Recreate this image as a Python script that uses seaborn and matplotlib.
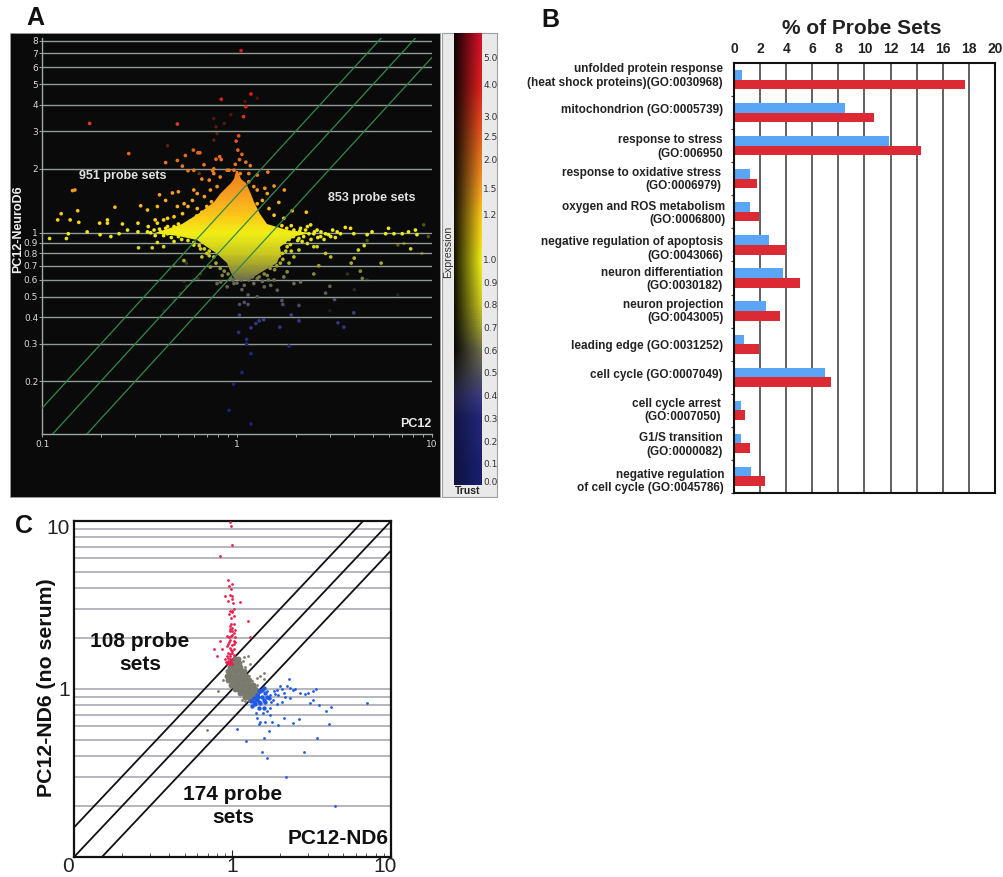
import numpy as np
import pandas as pd
import seaborn as sns
import matplotlib.pyplot as plt
from matplotlib.colors import LinearSegmentedColormap, LogNorm
from matplotlib.patches import Polygon, Rectangle
from matplotlib.transforms import ScaledTranslation

W, H = 1004, 877

# Panel A: points (PC12, PC12-NeuroD6)
a_points = [
    (1.05, 7.2), (1.18, 4.5), (.83, 4.25), (1.11, 3.92), (1.08, 3.52), (.175, 3.27), (.494, 3.25), (1.02, 2.86),
    (.99, 2.7), (.278, 2.36), (.597, 2.45), (.63, 2.38), (.645, 2.38), (.543, 2.31), (.815, 2.28), (.83, 2.21),
    (1.01, 2.45), (1.06, 2.34), (.43, 2.14), (.494, 2.19), (1.11, 2.15), (1.03, 2.21), (.677, 2.09), (.98, 2.1),
    (.78, 2.22), (.524, 2.06), (.56, 1.96), (.6, 1.97), (.75, 1.96), (.76, 2.0), (.89, 1.97), (1.17, 2.07),
    (1.27, 1.87), (1.44, 1.93), (.66, 1.79), (.143, 1.58), (.147, 1.59), (1.55, 1.66), (1.39, 1.62), (1.75, 1.59),
    (1.43, 1.53), (1.64, 1.39), (1.27, 1.37), (1.92, 1.27), (2.27, 1.25), (.466, 1.54), (.4, 1.51), (.43, 1.42),
    (.5, 1.56), (.32, 1.34), (.236, 1.32), (.347, 1.28), (.39, 1.33), (.152, 1.27), (.125, 1.23), (.12, 1.15),
    (.139, 1.15), (.154, 1.12), (.197, 1.11), (.216, 1.15), (.216, 1.11), (.258, 1.1), (.31, 1.11), (.17, 1.01),
    (.136, .99), (.133, .94), (.109, .94), (.198, .98), (.225, .96), (.248, .99), (.31, 1.01), (.312, .85),
    (.367, .85), (.39, .9), (.534, .74), (.42, 1.15), (.38, 1.15), (.44, 1.07), (.35, 1.07), (.274, 1.03),
    (2.58, 1.03), (2.85, .99), (3.03, .96), (3.27, 1.01), (3.4, .99), (3.6, 1.06), (3.83, 1.05), (3.98, .99),
    (4.66, .98), (4.94, 1.01), (5.8, .99), (6.0, 1.05), (6.4, .99), (7.06, .99), (7.6, 1.01), (8.25, 1.03),
    (8.4, .98), (7.8, .84), (5.5, .72), (4.5, .87), (4.2, .83), (4.0, .76), (3.86, .72), (3.03, .77), (2.85, .8),
    (2.58, .86), (2.48, .86), (4.3, .66), (4.4, .61), (3.0, .56), (2.85, .52), (2.63, .7), (2.48, .64),
    (1.03, .46), (1.09, .47), (1.14, .46), (1.03, .41), (1.02, .34), (1.12, .315), (1.12, .3), (1.18, .27),
    (1.06, .22), (.96, .194), (.91, .146), (1.18, .126), (1.18, .357), (1.25, .374), (1.3, .385), (1.37, .39),
    (1.66, .36), (2.08, .385), (1.85, .293), (1.9, .41), (3.3, .377), (3.54, .36), (1.7, .48), (1.72, .46),
    (2.08, .455), (1.27, .5), (1.14, .51), (1.06, .54), (3.17, .485), (3.98, .42),
    (.79, .577), (.825, .587), (.89, .557), (.965, .577), (1.09, .566), (1.22, .577), (1.38, .557), (1.49, .566),
    (1.61, .537), (1.96, .577), (2.12, .587), (1.74, .62), (1.81, .655), (1.55, .6), (.76, .77), (.7, .8),
    (.65, .84), (.6, .875), (1.85, .72), (1.96, .77), (2.08, .83), (2.16, .91), (1.81, .86), (1.71, .8),
    (1.67, .72), (1.56, .67), (1.43, .63), (1.27, .61), (1.15, .6), (.93, .61), (.84, .63), (.73, .69), (.66, .77),
    (.56, 1.33), (.625, 1.53), (.68, 1.48), (.73, 1.59), (.79, 1.65), (.72, 1.77), (.82, 1.83), (.91, 1.97),
    (1.04, 1.9), (1.15, 1.74), (1.27, 1.59), (1.35, 1.42), (1.46, 1.3), (1.55, 1.21), (1.74, 1.17), (.525, 1.23),
    (.475, 1.19), (.59, 1.42), (.625, 1.3), (.535, 1.37), (.494, 1.33), (.6, 1.59), (1.15, 1.9), (.76, 1.9),
    (1.22, 1.65), (.965, 1.97),
    (1.96, 1.03), (2.12, 1.05), (2.3, 1.07), (2.39, 1.09), (2.08, .94), (2.34, .99), (2.3, .89), (2.48, .99),
    (2.69, .96), (.475, 1.07), (.44, .99), (.406, 1.01), (.375, 1.03), (.347, 1.01), (.39, 1.11), (.44, 1.17),
    (.42, .86), (.475, .91),
    (.36, 1.0), (.38, .97), (.4, 1.04), (.42, .97), (.43, 1.05), (.45, 1.02), (.46, .95), (.48, 1.05), (.5, .96),
    (.5, 1.1), (.52, .93), (.54, 1.09), (.56, .92), (.58, 1.14), (.6, .9), (.62, 1.2), (.64, .87), (.66, 1.25),
    (.68, .84), (.7, 1.33), (.72, .82), (.74, 1.4),
    (1.7, 1.08), (1.75, .95), (1.8, 1.05), (1.85, .93), (1.9, 1.08), (1.95, .96), (2.0, 1.0), (2.05, .92),
    (2.1, 1.02), (2.2, .96), (2.25, 1.03), (2.4, .93), (2.5, 1.01), (2.6, .95), (2.7, 1.01), (2.8, .93),
    (2.95, .98), (3.1, 1.03), (3.2, .95),
    (.72, .78), (.78, .72), (.82, .68), (.86, .66), (.9, .64), (.95, .6), (1.0, .58), (1.05, .6), (1.12, .63),
    (1.2, .62), (1.3, .62), (1.38, .64), (1.48, .68), (1.6, .7), (1.65, .78), (1.72, .75), (1.75, .9), (1.88, .88),
    (1.78, .82), (1.9, .82), (1.45, .6), (1.35, .59), (1.02, .61),
]
a_dim_points = [
    (.76, 3.45), (.93, 3.6), (1.27, 4.3), (1.1, 4.15), (.79, 2.93), (.76, 2.73), (.86, 3.27), (.78, 3.15),
    (.44, 2.57), (.64, 1.9), (.51, .52), (.475, .48), (.55, .56), (.6, .6), (.65, .64), (.42, .43), (4.66, .92),
    (6.7, .875), (9.1, 1.09), (9.6, .96), (8.9, .8), (7.2, .89), (3.7, .64), (4.66, .6), (4.0, .54), (6.7, .51),
    (3.0, .43), (.55, .72), (.475, .7), (.63, .61), (.535, .59),
]
# outline of the dense cloud in the middle of panel A
blob_y = [1.95, 1.8, 1.71, 1.53, 1.4, 1.23, 1.1, 1.03, 1.0, .97, .92, .86, .8, .72, .65, .6]
blob_left = [.99, .97, .93, .82, .76, .63, .52, .42, .38, .5, .62, .70, .78, .89, .93, .98]
blob_right = [1.01, 1.05, 1.11, 1.18, 1.22, 1.32, 1.42, 1.8, 2.4, 2.0, 1.85, 1.67, 1.68, 1.6, 1.32, 1.15]

a_yticks = [.2, .3, .4, .5, .6, .7, .8, .9, 1, 2, 3, 4, 5, 6, 7, 8]
a_xminor = [.2, .3, .4, .5, .6, .7, .8, .9, 2, 3, 4, 5, 6, 7, 8, 9]
fold_lines = [1.5, 1.0, 1 / 1.5]

expr_values = [.1, .3, .4, .5, .6, .7, .8, .9, 1.0, 1.2, 1.5, 2.0, 3.0, 4.0, 6.0]
expr_colors = ['#1a2070', '#23277a', '#3b3b80', '#55555f', '#6e6e4e', '#a0a030', '#c8c820', '#dede1c',
               '#f0ee14', '#fcc818', '#f6a020', '#ec7c1e', '#e6451f', '#e3201f', '#d8102a']
cbar_labels = ['5.0', '4.0', '3.0', '2.5', '2.0', '1.5', '1.2', '1.0', '0.9', '0.8', '0.7', '0.6', '0.5', '0.4',
               '0.3', '0.2', '0.1', '0.0']
cbar_px = [57, 84, 116, 136, 159, 188, 214.5, 259, 282, 304, 327, 350, 372, 395, 418, 441, 463, 481]

# Panel B
terms = ['unfolded protein response\n(heat shock proteins)(GO:0030968)', 'mitochondrion (GO:0005739)',
         'response to stress\n(GO:006950', 'response to oxidative stress\n(GO:0006979)',
         'oxygen and ROS metabolism\n(GO:0006800)', 'negative regulation of apoptosis\n(GO:0043066)',
         'neuron differentiation\n(GO:0030182)', 'neuron projection\n(GO:0043005)', 'leading edge (GO:0031252)',
         'cell cycle (GO:0007049)', 'cell cycle arrest\n(GO:0007050)', 'G1/S transition\n(GO:0000082)',
         'negative regulation\nof cell cycle (GO:0045786)']
blue_pct = [.65, 8.5, 11.85, 1.25, 1.25, 2.7, 3.75, 2.45, .8, 7.0, .5, .5, 1.3]
red_pct = [17.7, 10.7, 14.35, 1.75, 1.95, 4.0, 5.05, 3.55, 1.9, 7.45, .85, 1.25, 2.35]
term_right = [723, 723.5, 723, 721, 725.5, 723, 723, 723.5, 723, 722, 721, 722.5, 724]
term_y = [76, 110, 147, 179.5, 213.5, 249, 279.5, 311.5, 345.5, 375.5, 410.5, 445, 481.5]

# Panel C
c_red = [
    (.958, 9.9), (.976, 9.4), (.995, 7.2), (.836, 6.2), (.943, 4.43), (1.0, 4.19), (.948, 4.1), (.976, 3.92),
    (.97, 3.62), (.894, 3.57), (1.0, 3.57), (.99, 3.41), (.939, 3.33), (1.01, 3.26), (1.12, 3.29), (1.015, 3.01),
    (.97, 2.9), (.99, 2.88), (.953, 2.78), (1.015, 2.71), (.98, 2.65), (1.26, 2.53), (1.015, 2.44), (.958, 2.37),
    (.99, 2.31), (1.04, 2.26), (.958, 2.21), (1.015, 2.16), (.976, 2.06), (1.03, 2.03), (.92, 2.06), (.97, 1.97),
    (1.015, 1.92), (.836, 1.94), (1.29, 2.04), (.943, 1.85), (.99, 1.84), (1.04, 1.91), (.92, 1.8), (.97, 1.76),
    (1.015, 1.74), (.76, 1.72), (.856, 1.72), (.943, 1.64), (.99, 1.64), (.796, 1.57), (.92, 1.57), (.97, 1.57),
    (1.015, 1.6), (.9, 1.5), (.943, 1.46), (.99, 1.5), (.92, 1.41), (.958, 1.4), (.98, 2.45), (1.0, 2.2),
    (.95, 1.9), (.98, 1.7), (1.0, 1.68), (.96, 1.62), (.93, 1.52), (.96, 1.5), (.98, 1.45), (.91, 1.44),
    (.94, 1.42), (.97, 1.44), (.99, 1.4), (.95, 2.05), (.99, 2.1), (1.02, 1.85), (.965, 2.28), (1.0, 2.9),
]
c_blue = [
    (7.1, .83), (4.2, .78), (3.9, .74), (4.05, .62), (3.5, .8), (3.1, .825), (3.2, .855), (3.2, .97), (3.37, 1.0),
    (3.0, .945), (2.88, .94), (2.68, .945), (2.49, 1.0), (2.3, 1.01), (2.28, 1.15), (2.2, 1.04), (2.0, 1.04),
    (1.9, .99), (1.82, .97), (1.73, .925), (1.65, .97), (2.15, .9), (2.05, .84), (1.9, .81), (1.73, .77),
    (1.65, .74), (1.42, .67), (1.46, .62), (1.6, .64), (1.77, .64), (1.95, .61), (2.1, .67), (2.4, .63),
    (2.64, .66), (1.06, .58), (1.58, .51), (1.71, .56), (1.21, .49), (3.43, .51), (2.81, .42), (1.53, .42),
    (1.65, .39), (2.18, .3), (4.45, .2), (4.14, .143), (1.4, .72), (1.55, .72), (1.8, .86), (1.85, .93),
    (2.05, 1.0), (2.1, .95), (2.4, .98), (1.95, .92), (1.75, .84), (2.3, .88), (1.5, .64), (1.72, .7),
]
c_blue_core = [
    (1.36, .88), (1.42, .925), (1.5, .97), (1.57, 1.01), (1.53, .9), (1.46, .84), (1.39, .81), (1.61, .84),
    (1.69, .88), (1.57, .77), (1.46, .77), (1.32, .79), (1.42, .86), (1.5, .82), (1.36, .84), (1.61, .945),
    (1.53, .99), (1.46, .97), (1.3, .85), (1.58, .86), (1.45, .9), (1.65, .9),
]
c_gray = [
    (.69, .57), (.815, .97), (.87, 1.13), (1.42, 1.16), (1.57, 1.25), (1.5, 1.19), (1.26, 1.57), (1.17, 1.46),
    (1.29, 1.4), (1.12, 1.33), (1.42, 1.06), (1.2, 1.11), (1.57, 1.14), (1.18, 1.55), (1.1, 1.5), (1.2, 1.36),
    (1.33, 1.12), (1.28, 1.2), (1.36, 1.0), (1.28, .85), (1.15, .86), (1.2, .85), (1.05, 1.42),
]
c_gray_core = [
    (1.03, 1.5), (1.08, 1.5), (.98, 1.42), (1.04, 1.42), (1.1, 1.42), (.96, 1.35), (1.0, 1.35), (1.05, 1.35),
    (1.12, 1.35), (.93, 1.28), (.97, 1.28), (1.02, 1.28), (1.07, 1.28), (1.13, 1.28), (1.18, 1.28), (.92, 1.2),
    (.96, 1.2), (1.01, 1.2), (1.06, 1.2), (1.11, 1.2), (1.17, 1.2), (1.22, 1.2), (.94, 1.13), (.99, 1.13),
    (1.04, 1.13), (1.1, 1.13), (1.15, 1.13), (1.2, 1.13), (1.27, 1.13), (.98, 1.06), (1.04, 1.06), (1.1, 1.06),
    (1.16, 1.06), (1.22, 1.06), (1.28, 1.06), (1.35, 1.06), (1.03, 1.0), (1.08, 1.0), (1.14, 1.0), (1.2, 1.0),
    (1.26, 1.0), (1.32, 1.0), (1.38, 1.0), (1.12, .95), (1.18, .95), (1.24, .95), (1.3, .95), (1.36, .95),
    (1.42, .95), (1.2, .9), (1.26, .9), (1.32, .9), (1.38, .9),
]
c_grid = [.2, .3, .4, .5, .6, .7, .8, .9, 1, 2, 3, 4, 5, 6, 7, 8, 9]
c_xminor = [.2, .3, .4, .5, .6, .7, .8, .9, 2, 3, 4, 5, 6, 7, 8, 9]

sns.set_style('white')
plt.rcParams['font.family'] = ['Liberation Sans', 'DejaVu Sans']


def px_axes(x0, y0, x1, y1, **kw):
    return fig.add_axes([x0 / W, 1 - y1 / H, (x1 - x0) / W, (y1 - y0) / H], **kw)


def px_text(x, y, s, **kw):
    kw.setdefault('ha', 'center')
    kw.setdefault('va', 'center')
    return fig.text(x / W, 1 - y / H, s, **kw)


def nudge(label, dx, dy):
    # shift a tick label by some pixels
    label.set_transform(label.get_transform() + ScaledTranslation(dx / 100, -dy / 100, fig.dpi_scale_trans))


fig = plt.figure(figsize=(W / 100, H / 100), dpi=100)

# ---- Panel A
fig.add_artist(Rectangle((10 / W, 1 - 497 / H), 430 / W, 464 / H, transform=fig.transFigure,
                         fc='#0a0a0a', ec='#999999', lw=.6, zorder=-1))
ax = px_axes(42.3, 38.3, 431.7, 434, facecolor='none')
ax.set_xscale('log')
ax.set_yscale('log')
ax.set_xlim(.1, 10)
ax.set_ylim(.113, 8.23)

norm = LogNorm(.1, 6)
stops = [(norm(v), c) for v, c in zip(expr_values, expr_colors)]
stops[0] = (0, expr_colors[0])
stops[-1] = (1, expr_colors[-1])
expr_cmap = LinearSegmentedColormap.from_list('expr', stops)

for v in a_yticks:
    ax.axhline(v, color='#8c9c92', lw=1, zorder=1)

dim_df = pd.DataFrame(a_dim_points, columns=['x', 'y'])
sns.scatterplot(data=dim_df, x='x', y='y', hue='y', palette=expr_cmap, hue_norm=norm, s=6, linewidth=0,
                alpha=.35, ax=ax, legend=False, zorder=3)

poly = Polygon(list(zip(blob_left, blob_y)) + list(zip(blob_right, blob_y))[::-1], closed=True,
               fc='none', ec='none', transform=ax.transData)
ax.add_patch(poly)
edges = np.geomspace(.58, 2, 90)
mesh = ax.pcolormesh([.1, 10], edges, np.sqrt(edges[:-1] * edges[1:]).reshape(-1, 1), cmap=expr_cmap, norm=norm,
                     zorder=3)
mesh.set_clip_path(poly)

a_df = pd.DataFrame(a_points, columns=['x', 'y'])
sns.scatterplot(data=a_df, x='x', y='y', hue='y', palette=expr_cmap, hue_norm=norm, s=7, linewidth=0, ax=ax,
                legend=False, zorder=4)
# the fold lines show through the cloud
for f in fold_lines:
    line_df = pd.DataFrame({'x': [.05, 20], 'y': [.05 * f, 20 * f]})
    sns.lineplot(data=line_df, x='x', y='y', ax=ax, color='#2f8a4c', lw=.9, zorder=5, legend=False, errorbar=None)

ax.set_xlabel('')
ax.set_ylabel('')
for s in ['top', 'right']:
    ax.spines[s].set_visible(False)
for s in ['left', 'bottom']:
    ax.spines[s].set_color('#a0a8a4')
    ax.spines[s].set_linewidth(1)
ax.set_yticks(a_yticks)
ax.set_yticklabels([f'{v:g}' for v in a_yticks], family='DejaVu Sans', fontsize=6.5, color='#d8d8d8')
ax.set_yticks([], minor=True)
ax.set_xticks([.1, 1, 10])
ax.set_xticklabels(['0.1', '1', '10'], family='DejaVu Sans', fontsize=6.5, color='#d8d8d8')
ax.set_xticks(a_xminor, minor=True)
ax.set_xticklabels([], minor=True)
ax.tick_params(axis='x', which='both', bottom=True, length=2, width=.7, color='#a0a8a4', pad=2)
ax.tick_params(axis='y', which='major', left=True, length=2, width=.7, color='#a0a8a4', pad=1)

px_text(123, 176, '951 probe sets', color='#e2e2e2', fontsize=9, fontweight='bold')
px_text(372, 198, '853 probe sets', color='#e2e2e2', fontsize=9, fontweight='bold')
px_text(416, 424, 'PC12', color='#e8e8e8', fontsize=9, fontweight='bold')
px_text(18, 229, 'PC12-NeuroD6', color='#f0f0f0', fontsize=9, fontweight='bold', rotation=90)

# colour scale strip
fig.add_artist(Rectangle((442 / W, 1 - 497 / H), 55 / W, 464 / H, transform=fig.transFigure,
                         fc='#e9e9e9', ec='#9aa0a4', lw=.8, zorder=-1))
cax = px_axes(454, 33, 482, 485)
rows = np.arange(33, 485)
row_vals = np.interp(rows, cbar_px, [float(s) for s in cbar_labels])
row_vals = np.where(rows < cbar_px[0], 5.0 + (cbar_px[0] - rows) * .04, row_vals)
row_vals = np.clip(row_vals, .1, None)
rgba = expr_cmap(norm(row_vals))[:, :3]
# low trust on the left goes to black, except in the blue part of the scale
trust = np.linspace(0, 1, 40)
floor = np.interp(row_vals, [.4, .6], [.55, .08])
shade = floor[:, None] + (1 - floor[:, None]) * trust[None, :]
cax.imshow(rgba[:, None, :] * shade[:, :, None], aspect='auto', extent=(0, 1, 485, 33))
cax.set_xticks([])
cax.yaxis.tick_right()
cax.set_yticks(cbar_px)
cax.set_yticklabels(cbar_labels, family='DejaVu Sans', fontsize=6.5, color='#333333')
cax.tick_params(axis='y', length=0, pad=1)
sns.despine(ax=cax, left=True, right=True, top=True, bottom=True)
px_text(448, 252, 'Expression', fontsize=7.6, rotation=90, color='#333333')
px_text(468, 491, 'Trust', fontsize=7.5, fontweight='bold', color='#222222')

# ---- Panel B
ax = px_axes(734, 63, 995, 493)
b_df = pd.DataFrame({'term': terms * 2, 'pct': blue_pct + red_pct,
                     'group': ['blue'] * len(terms) + ['red'] * len(terms)})
ax.set_axisbelow(True)
ax.grid(axis='x', color='#555555', lw=1.3)
ax.grid(axis='y', visible=False)
sns.barplot(data=b_df, x='pct', y='term', hue='group', palette={'blue': '#5aa5f5', 'red': '#dc2a35'}, width=.58,
            gap=0, saturation=1, orient='h', ax=ax, legend=False, errorbar=None, linewidth=0)
ax.set_xlim(0, 20)
ax.set_xlabel('')
ax.set_ylabel('')
ax.xaxis.tick_top()
ax.set_xticks(range(0, 21, 2))
ax.set_xticklabels(range(0, 21, 2), fontsize=10, fontweight='bold', color='#222222')
ax.tick_params(axis='x', length=0, pad=5)
ax.set_yticks(np.arange(len(terms)) + .5, labels=[''] * len(terms))
ax.tick_params(axis='y', left=True, length=2, width=.8, color='#333333')
ax.set_ylim(len(terms) - .5, -.5)
for s in ax.spines.values():
    s.set_color('#111111')
    s.set_linewidth(1.5)
for label, right, y in zip(terms, term_right, term_y):
    px_text(right, y, label, ha='right', fontsize=8.5, fontweight='bold', color='#222222', linespacing=1.2)
px_text(862, 28, '% of Probe Sets', fontsize=15, fontweight='bold', color='#222222')

# ---- Panel C
ax = px_axes(74, 521, 391, 857)
ax.set_xscale('log')
ax.set_yscale('log')
ax.set_xlim(.1, 10)
ax.set_ylim(.1, 10)
for v in c_grid:
    ax.axhline(v, color='#a9a9b2', lw=1.2, zorder=1)
for f in fold_lines:
    line_df = pd.DataFrame({'x': [.05, 20], 'y': [.05 * f, 20 * f]})
    sns.lineplot(data=line_df, x='x', y='y', ax=ax, color='#111111', lw=1.3, zorder=2, legend=False, errorbar=None)
for pts, col, size in [(c_gray_core, '#7a7a6e', 18), (c_gray, '#7a7a6e', 4), (c_blue_core, '#1f5ae6', 10),
                       (c_blue, '#1f5ae6', 4), (c_red, '#e8204e', 4)]:
    pts_df = pd.DataFrame(pts, columns=['x', 'y'])
    sns.scatterplot(data=pts_df, x='x', y='y', color=col, s=size, linewidth=0, ax=ax, legend=False, zorder=3)
ax.set_xlabel('')
ax.set_ylabel('')
ax.set_xticks([.1, 1, 10])
ax.set_xticklabels(['0', '1', '10'], fontsize=15, color='#222222')
ax.set_xticks(c_xminor, minor=True)
ax.set_xticklabels([], minor=True)
ax.set_yticks([1, 10])
ax.set_yticklabels(['1', '10'], fontsize=15, color='#222222')
ax.set_yticks([], minor=True)
ax.tick_params(axis='x', which='minor', bottom=True, direction='in', length=3, width=.7, color='#555555')
ax.tick_params(axis='x', which='major', bottom=True, direction='in', length=5, width=.8, color='#222222', pad=0)
ax.tick_params(axis='y', which='major', length=0, pad=3)
xlabels = ax.get_xticklabels()
nudge(xlabels[0], -6, 0)
nudge(xlabels[2], -6, 0)
nudge(ax.get_yticklabels()[1], 0, 6)
for s in ax.spines.values():
    s.set_color('#111111')
    s.set_linewidth(1.6)

px_text(140, 653, '108 probe\nsets', fontsize=15, fontweight='bold', color='#111111', linespacing=1.3)
px_text(233, 806, '174 probe\nsets', fontsize=15, fontweight='bold', color='#111111', linespacing=1.3)
px_text(338, 838, 'PC12-ND6', fontsize=15, fontweight='bold', color='#111111')
px_text(47, 688, 'PC12-ND6 (no serum)', fontsize=15.3, fontweight='bold', color='#111111', rotation=90)

px_text(35, 18, 'A', fontsize=18, fontweight='bold', color='#111111')
px_text(550, 20, 'B', fontsize=18, fontweight='bold', color='#111111')
px_text(24, 526, 'C', fontsize=18, fontweight='bold', color='#111111')

fig.savefig('out.png', dpi=100)
